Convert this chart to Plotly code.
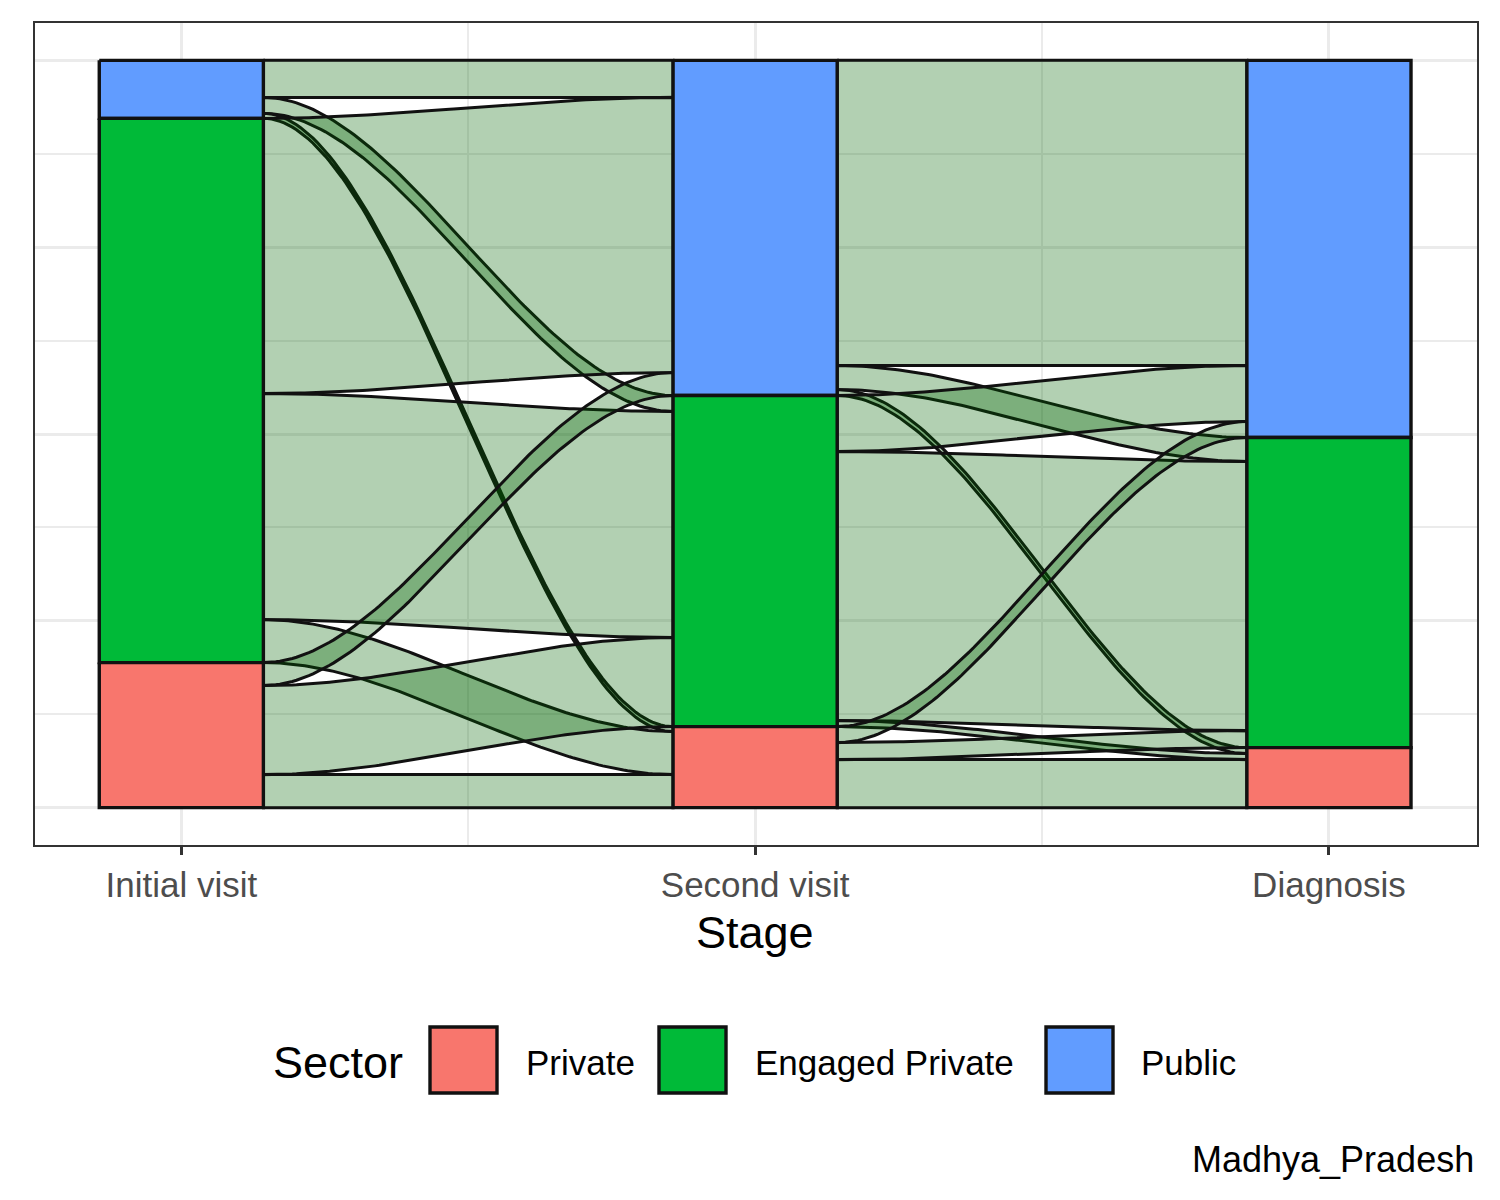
import numpy as np
import plotly.graph_objects as go

# ---------------- data ----------------
stages = ["Initial visit", "Second visit", "Diagnosis"]
sectors = ["Private", "Engaged Private", "Public"]
sector_colors = ["#F8766D", "#00BA38", "#619CFF"]

# flows[from][to], sector order as in `sectors`
flow_initial_to_second = [
    [33, 89, 23],     # Private -> Private, Engaged Private, Public
    [43, 226, 275],   # Engaged Private -> ...
    [5, 16, 37],      # Public -> ...
]
flow_second_to_diagnosis = [
    [48, 17, 16],
    [6, 269, 56],
    [6, 24, 305],
]
caption = "Madhya_Pradesh"

# ---------------- geometry helpers ----------------
FONT = "Liberation Sans, Arial, sans-serif"
M = [np.array(flow_initial_to_second, float), np.array(flow_second_to_diagnosis, float)]
total = M[0].sum()
stack = [2, 1, 0]  # top-to-bottom: Public, Engaged Private, Private
stage_totals = [M[0].sum(axis=1), M[0].sum(axis=0), M[1].sum(axis=0)]
W = 0.286


def tops(tot):
    t = {}
    y = 1.0
    for k in stack:
        t[k] = y
        y -= tot[k] / total
    return t


fig = go.Figure()
tt = np.linspace(0, 1, 100)
sm = 3 * tt ** 2 - 2 * tt ** 3

for p, m in enumerate(M):
    x0 = p + 1 + W / 2
    x1 = p + 2 - W / 2
    ltop = tops(m.sum(axis=1))
    rtop = tops(m.sum(axis=0))
    lpos, rpos = {}, {}
    for i in stack:
        y = ltop[i]
        for j in stack:
            lpos[(i, j)] = y
            y -= m[i, j] / total
    for j in stack:
        y = rtop[j]
        for i in stack:
            rpos[(i, j)] = y
            y -= m[i, j] / total
    xs = x0 + (x1 - x0) * tt
    for i in stack:
        for j in stack:
            h = m[i, j] / total
            if h <= 0:
                continue
            ya, yb = lpos[(i, j)], rpos[(i, j)]
            top = ya + (yb - ya) * sm
            bot = top - h
            X = np.concatenate([xs, xs[::-1], [xs[0]]])
            Y = np.concatenate([top, bot[::-1], [top[0]]])
            fig.add_trace(go.Scatter(
                x=X, y=Y, mode="lines", fill="toself",
                fillcolor="rgba(0,100,0,0.3)",
                line=dict(color="#111111", width=3),
                hoverinfo="skip", showlegend=False))

# strata
for s, tot in enumerate(stage_totals):
    t = tops(tot)
    xc = s + 1
    for k in stack:
        yt = t[k]
        yb = yt - tot[k] / total
        fig.add_trace(go.Scatter(
            x=[xc - W / 2, xc + W / 2, xc + W / 2, xc - W / 2, xc - W / 2],
            y=[yt, yt, yb, yb, yt], mode="lines", fill="toself",
            fillcolor=sector_colors[k], line=dict(color="#111111", width=3.4),
            hoverinfo="skip", showlegend=False))

# ---------------- layout ----------------
OFF = 8  # page body margin
FW, FH = 1500 - OFF, 1200 - OFF
L, R, T, B = 35 - OFF, 1477 - OFF, 23 - OFF, 845 - OFF


def px(x):
    return (x - OFF - L) / (R - L)


def py(y):
    return (B - (y - OFF)) / (B - T)


fig.update_layout(
    width=FW, height=FH,
    margin=dict(l=L, r=FW - R, t=T, b=FH - B),
    paper_bgcolor="white", plot_bgcolor="white",
    showlegend=False,
    font=dict(family=FONT),
    xaxis=dict(
        range=[0.745, 3.258], tickmode="array", tickvals=[1, 2, 3], ticktext=stages,
        ticks="outside", ticklen=8, tickwidth=2.5, tickcolor="#333333",
        tickfont=dict(size=35, color="#4D4D4D", family=FONT),
        showline=True, mirror=True, linecolor="#333333", linewidth=2.2,
        showgrid=True, gridcolor="#EBEBEB", gridwidth=3, zeroline=False,
        minor=dict(tickmode="array", tickvals=[1.5, 2.5], showgrid=True,
                   gridcolor="#EBEBEB", gridwidth=2, ticks=""),
        fixedrange=True,
    ),
    yaxis=dict(
        range=[-0.05, 1.05], tickmode="array", tickvals=[0, 0.25, 0.5, 0.75, 1.0],
        showticklabels=False, ticks="",
        showline=True, mirror=True, linecolor="#333333", linewidth=2.2,
        showgrid=True, gridcolor="#EBEBEB", gridwidth=3, zeroline=False,
        minor=dict(tickmode="array", tickvals=[0.125, 0.375, 0.625, 0.875],
                   showgrid=True, gridcolor="#EBEBEB", gridwidth=2, ticks=""),
        fixedrange=True,
    ),
)

annotations = [
    dict(text="Stage", x=px(755), y=py(932), xref="paper", yref="paper",
         xanchor="center", yanchor="middle", showarrow=False,
         font=dict(size=45, color="black", family=FONT)),
    dict(text="Sector", x=px(271), y=py(1062), xref="paper", yref="paper",
         xanchor="left", yanchor="middle", showarrow=False,
         font=dict(size=45, color="black", family=FONT)),
    dict(text=caption, x=px(1476), y=py(1159), xref="paper", yref="paper",
         xanchor="right", yanchor="middle", showarrow=False,
         font=dict(size=36, color="black", family=FONT)),
]
shapes = []
key_left = [430, 659, 1046]
label_left = [524, 753, 1139]
for k in range(len(sectors)):
    shapes.append(dict(type="rect", xref="paper", yref="paper",
                       x0=px(key_left[k]), x1=px(key_left[k] + 67),
                       y0=py(1027), y1=py(1093),
                       fillcolor=sector_colors[k],
                       line=dict(color="#111111", width=3.4)))
    annotations.append(dict(text=sectors[k], x=px(label_left[k]), y=py(1062),
                            xref="paper", yref="paper", xanchor="left",
                            yanchor="middle", showarrow=False,
                            font=dict(size=35, color="black", family=FONT)))
fig.update_layout(annotations=annotations, shapes=shapes)

fig.write_html("out.html")
